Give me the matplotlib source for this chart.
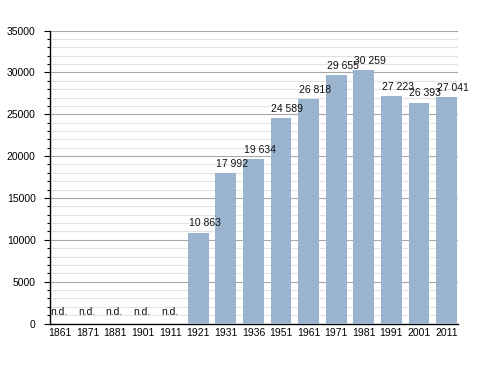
import numpy as np
import matplotlib
matplotlib.use("Agg")
import matplotlib.pyplot as plt
from matplotlib.ticker import MultipleLocator

plt.rcParams["font.family"] = ["Liberation Sans", "DejaVu Sans"]

# -----------------------------
# Data
# -----------------------------
years = ["1861", "1871", "1881", "1901", "1911", "1921", "1931", "1936",
         "1951", "1961", "1971", "1981", "1991", "2001", "2011"]
population = [None, None, None, None, None, 10863, 17992, 19634,
              24589, 26818, 29655, 30259, 27223, 26393, 27041]
labels = ["n.d.", "n.d.", "n.d.", "n.d.", "n.d.", "10 863", "17 992", "19 634",
          "24 589", "26 818", "29 655", "30 259", "27 223", "26 393", "27 041"]

BAR_COLOR = "#9ab3ce"
WIDTH = 0.75

fig = plt.figure(figsize=(4.88, 3.73), dpi=100)
ax = fig.add_axes([0.1025, 0.1327, 0.837, 0.7853])

x = np.arange(len(years))
heights = [v if v is not None else 0 for v in population]
ax.bar(x, heights, width=WIDTH, color=BAR_COLOR, zorder=3)

# value labels, left aligned on the bar edge
for i, (v, lab) in enumerate(zip(population, labels)):
    y = v if v is not None else 0
    off = 3 if v is not None else 5
    ax.annotate(lab, (i - WIDTH / 2, y), xytext=(0.5, off), textcoords="offset points",
                ha="left", va="bottom", fontsize=7.5, color="#111111", zorder=4)

ax.set_xlim(-0.37, len(years) - 1 + 0.43)
ax.set_ylim(0, 35000)
ax.set_xticks(x)
ax.set_xticklabels(years)

ax.yaxis.set_major_locator(MultipleLocator(5000))
ax.yaxis.set_minor_locator(MultipleLocator(1000))
ax.grid(axis="y", which="major", color="#a8a8a8", linewidth=0.8, zorder=0)
ax.grid(axis="y", which="minor", color="#e2e2e2", linewidth=0.8, zorder=0)
ax.set_axisbelow(True)

for s in ["top", "right"]:
    ax.spines[s].set_visible(False)
ax.spines["left"].set_linewidth(1.0)
ax.spines["bottom"].set_linewidth(1.0)

ax.tick_params(axis="x", length=0, pad=3.5, labelsize=7.5)
ax.tick_params(axis="y", which="major", length=4.3, width=0.8, pad=6, labelsize=7.5)
ax.tick_params(axis="y", which="minor", length=2.2, width=0.8)

fig.savefig("out.png", dpi=100)
